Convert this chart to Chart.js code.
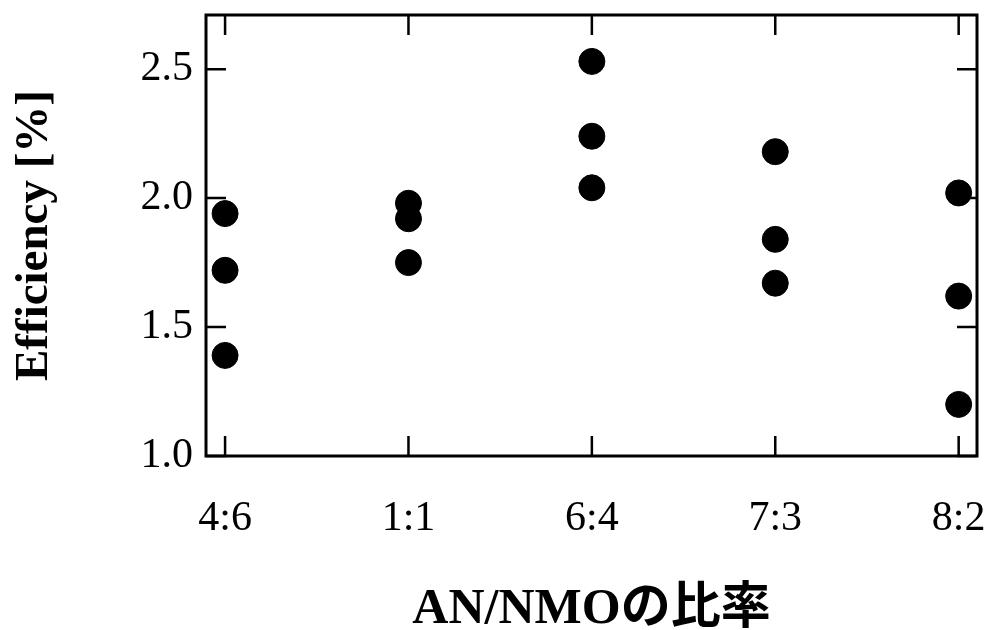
<!DOCTYPE html>
<html>
<head>
<meta charset="utf-8">
<script src="https://cdn.jsdelivr.net/npm/chart.js@4/dist/chart.umd.min.js"></script>
<style>
  html, body { margin: 0; padding: 0; background: #fff; }
  #wrap { width: 995px; height: 630px; }
</style>
</head>
<body>
<div id="wrap"><canvas id="myChart" width="995" height="630"></canvas></div>
<script>
// relaciones AN/NMO y los tres valores de eficiencia medidos para cada una
const ratios = ['4:6', '1:1', '6:4', '7:3', '8:2']
const run1 = [1.94, 1.98, 2.53, 2.18, 2.02]
const run2 = [1.72, 1.92, 2.24, 1.84, 1.62]
const run3 = [1.39, 1.75, 2.04, 1.67, 1.20]
const yTicks = [1.0, 1.5, 2.0, 2.5]

const serif = '"Liberation Serif", "Times New Roman", serif'

//se arman los puntos usando el indice de la categoria como x
const puntos = []
;[run1, run2, run3].forEach(function (serie) {
    serie.forEach(function (v, i) {
        puntos.push({ x: i, y: v })
    })
})

//marco y ticks hacia adentro en los cuatro lados
const marco = {
    id: 'marco',
    afterDraw(chart) {
        const ctx = chart.ctx
        const a = chart.chartArea
        const sx = chart.scales.x
        const sy = chart.scales.y
        const len = 20
        ctx.save()
        ctx.strokeStyle = '#000'
        ctx.lineWidth = 2.5
        ctx.beginPath()
        yTicks.forEach(function (v) {
            const py = sy.getPixelForValue(v)
            ctx.moveTo(a.left, py); ctx.lineTo(a.left + len, py)
            ctx.moveTo(a.right, py); ctx.lineTo(a.right - len, py)
        })
        ratios.forEach(function (r, i) {
            const px = sx.getPixelForValue(i)
            ctx.moveTo(px, a.bottom); ctx.lineTo(px, a.bottom - len)
            ctx.moveTo(px, a.top); ctx.lineTo(px, a.top + len)
        })
        ctx.stroke()
        ctx.lineWidth = 3
        ctx.strokeRect(a.left, a.top, a.right - a.left, a.bottom - a.top)
        ctx.restore()
    }
}

const ctx = document.getElementById('myChart').getContext('2d')
const chart = new Chart(ctx, {
    type: 'scatter',
    data: {
        datasets: [{
            label: 'Efficiency',
            data: puntos,
            backgroundColor: '#000',
            borderColor: '#000',
            pointStyle: 'circle',
            pointRadius: 13,
            pointHoverRadius: 13
        }]
    },
    options: {
        responsive: false,
        animation: false,
        layout: { padding: { top: 15, right: 18, left: 0, bottom: 0 } },
        plugins: {
            legend: { display: false },
            tooltip: { enabled: false }
        },
        scales: {
            x: {
                type: 'linear',
                min: -0.104,
                max: 4.1,
                afterBuildTicks(scale) {
                    scale.ticks = ratios.map(function (r, i) { return { value: i } })
                },
                //alto fijo del eje y sin relleno extra por las etiquetas
                afterFit(scale) {
                    scale.height = 174
                    scale.paddingLeft = 0
                    scale.paddingRight = 0
                },
                grid: { display: false, drawTicks: false },
                border: { display: false },
                ticks: {
                    padding: 38,
                    color: '#000',
                    font: { family: serif, size: 42 },
                    callback: function (v) { return ratios[v] }
                },
                title: {
                    display: true,
                    text: 'AN/NMOの比率',
                    color: '#000',
                    padding: { top: 0, bottom: -10 },
                    font: { family: serif + ', "Noto Sans CJK JP"', size: 50, weight: 'bold' }
                }
            },
            y: {
                type: 'linear',
                min: 1.0,
                max: 2.71,
                afterBuildTicks(scale) {
                    scale.ticks = yTicks.map(function (v) { return { value: v } })
                },
                afterFit(scale) {
                    scale.width = 206
                    scale.paddingTop = 0
                    scale.paddingBottom = 0
                },
                grid: { display: false, drawTicks: false },
                border: { display: false },
                ticks: {
                    padding: 13,
                    color: '#000',
                    font: { family: serif, size: 42 },
                    callback: function (v) { return v.toFixed(1) }
                },
                title: {
                    display: true,
                    text: 'Efficiency [%]',
                    color: '#000',
                    padding: { top: 7, bottom: 0 },
                    font: { family: serif, size: 47, weight: 'bold' }
                }
            }
        }
    },
    plugins: [marco]
})
</script>
</body>
</html>
